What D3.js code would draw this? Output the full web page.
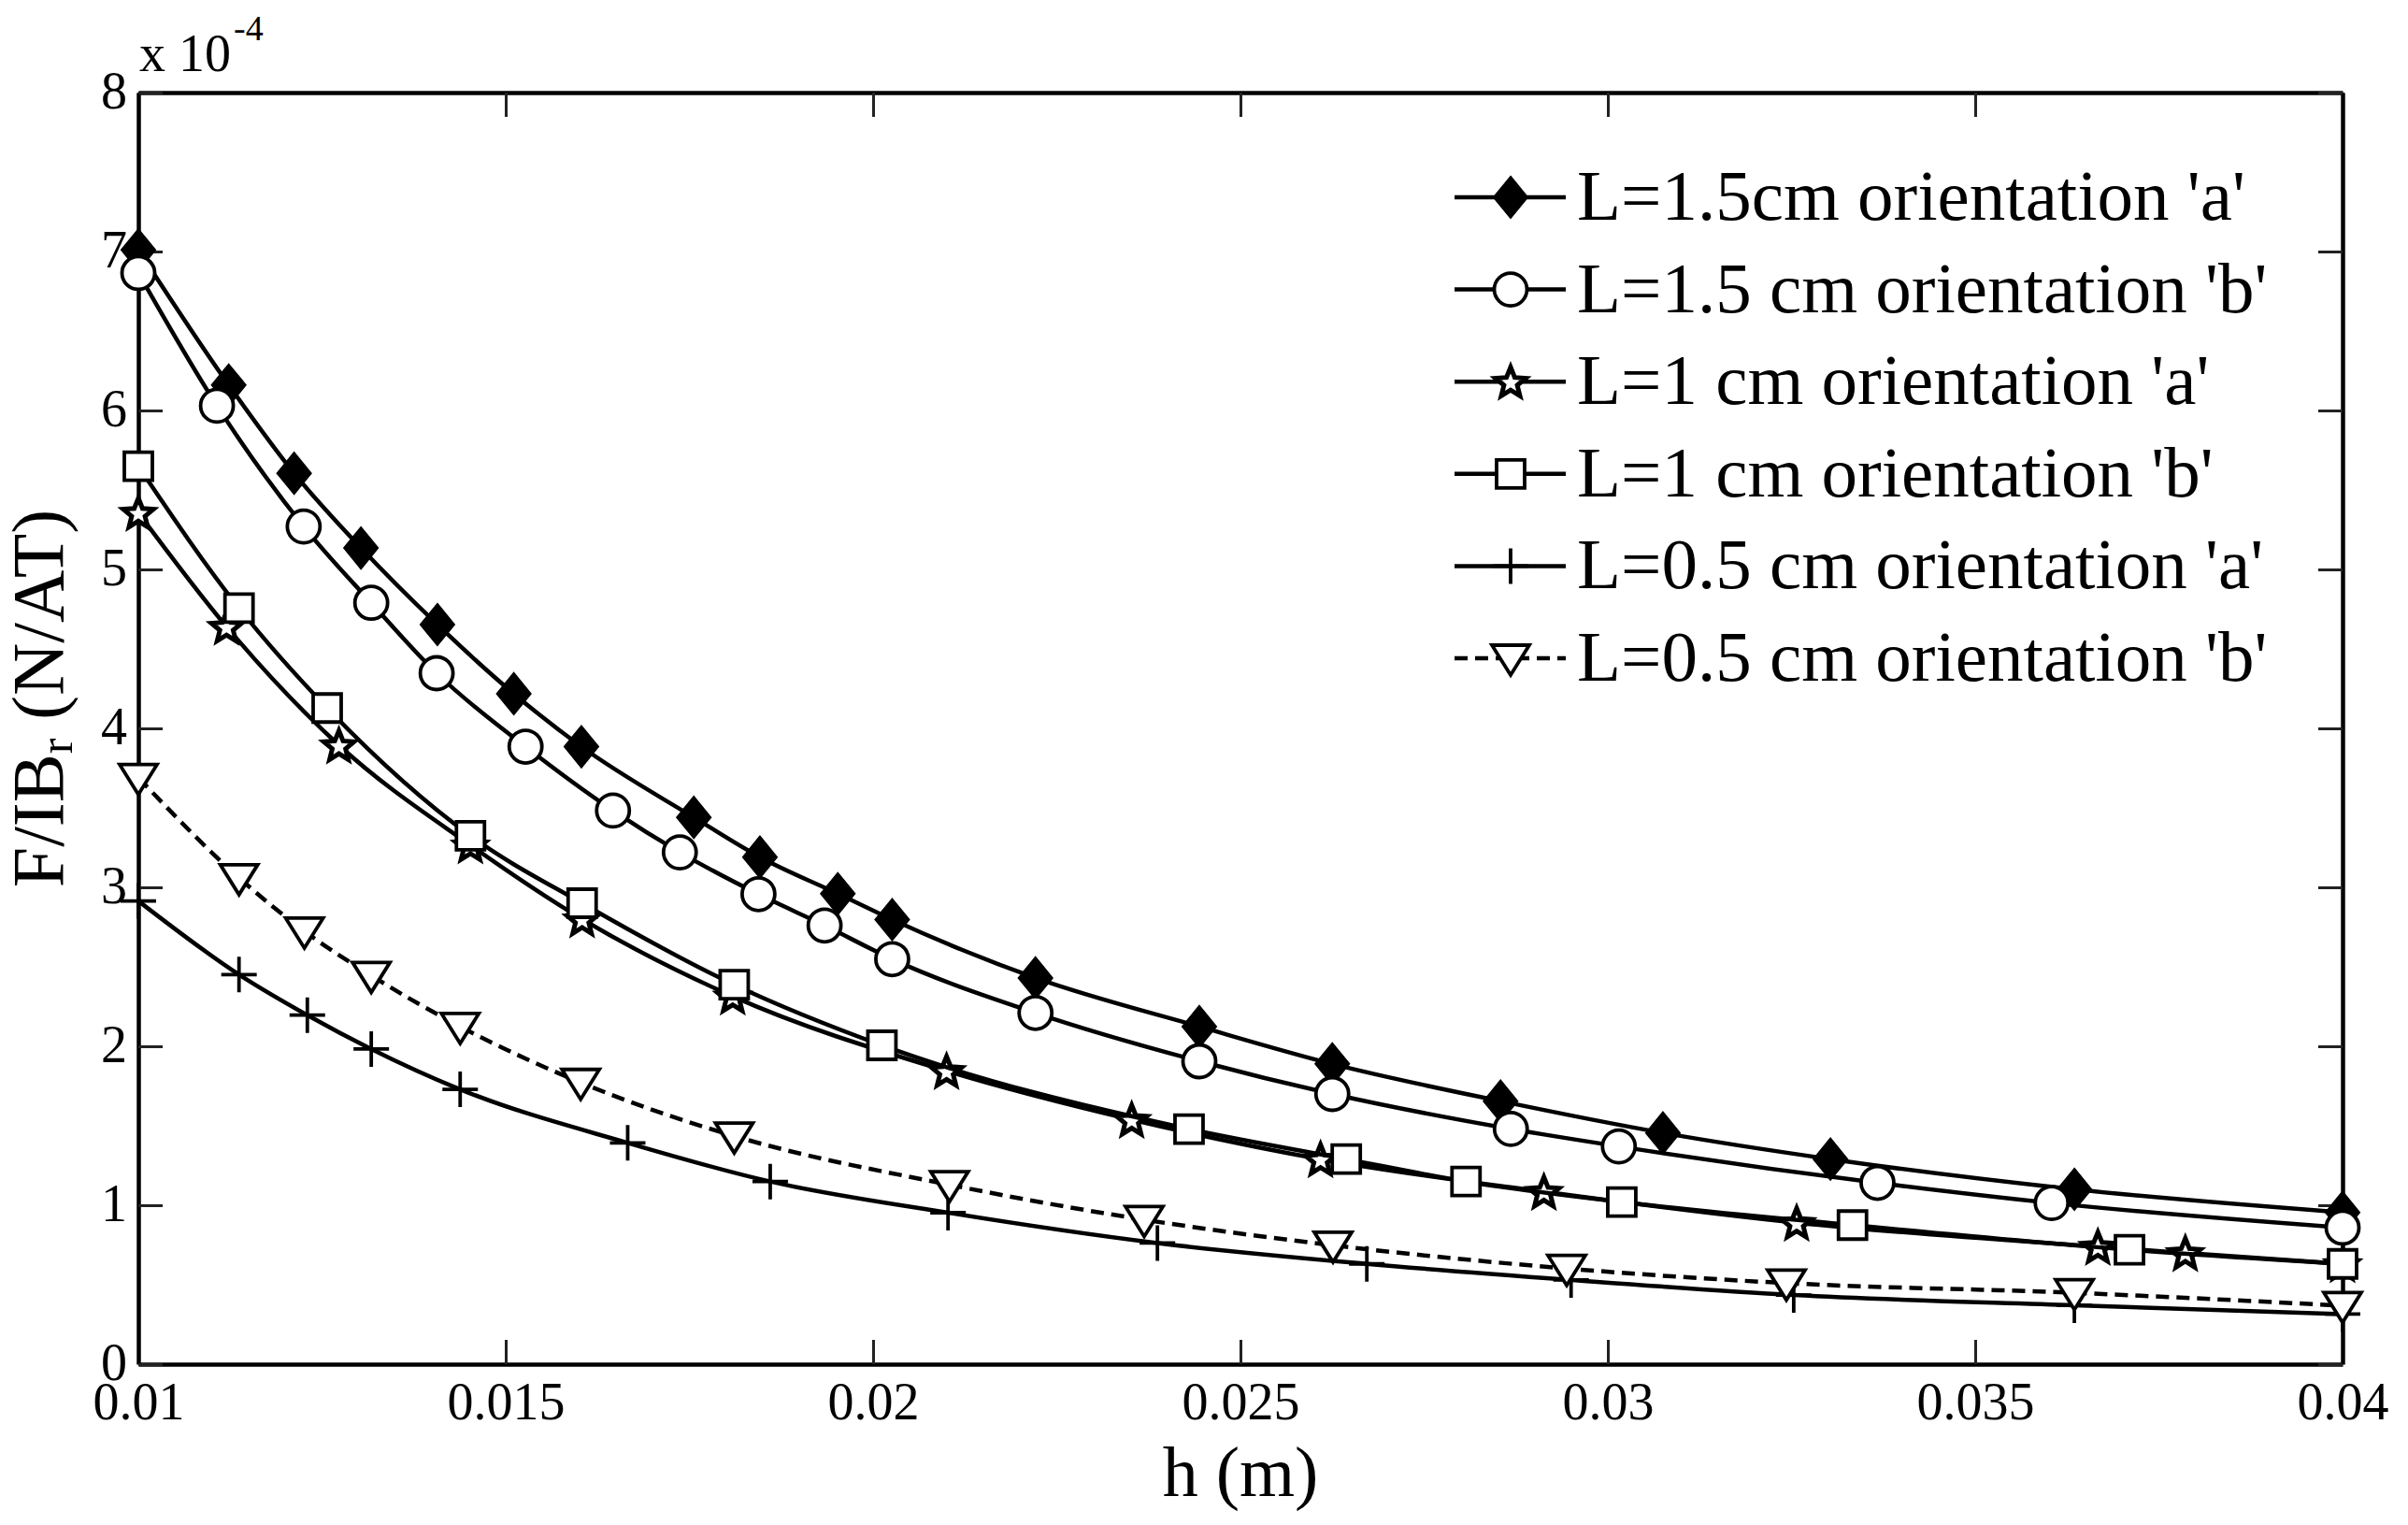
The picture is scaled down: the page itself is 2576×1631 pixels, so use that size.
<!DOCTYPE html>
<html>
<head>
<meta charset="utf-8">
<script src="https://cdn.jsdelivr.net/npm/d3@7/dist/d3.min.js"></script>
<style>
  body { margin: 0; background: #fff; }
  text { font-family: "Liberation Serif", "Times New Roman", serif; fill: #000; }
</style>
</head>
<body>
<script>
// ticks
var xTicks = [0.01, 0.015, 0.02, 0.025, 0.03, 0.035, 0.04];
var xTickLabels = ["0.01", "0.015", "0.02", "0.025", "0.03", "0.035", "0.04"];
var yTicks = [0, 1, 2, 3, 4, 5, 6, 7, 8];
var yTickLabels = ["0", "1", "2", "3", "4", "5", "6", "7", "8"];

// legend labels
var seriesNames = [
	"L=1.5cm orientation 'a'",
	"L=1.5 cm orientation 'b'",
	"L=1 cm orientation 'a'",
	"L=1 cm orientation 'b'",
	"L=0.5 cm orientation 'a'",
	"L=0.5 cm orientation 'b'"
];

var h15a = [0.0100, 0.01123, 0.01212, 0.01303, 0.01407, 0.01511, 0.01603, 0.01756, 0.01846, 0.01952, 0.02026, 0.02221, 0.02444, 0.02625, 0.02854, 0.03075, 0.03303, 0.03635, 0.0400];
var f15a = [7.01, 6.16, 5.605, 5.135, 4.653, 4.218, 3.885, 3.44, 3.19, 2.96, 2.797, 2.43, 2.124, 1.889, 1.655, 1.455, 1.29, 1.10, 0.955];
var h15b = [0.0100, 0.01107, 0.01225, 0.01317, 0.01406, 0.01527, 0.01646, 0.01737, 0.01844, 0.01934, 0.02026, 0.02221, 0.02444, 0.02625, 0.02868, 0.03015, 0.03367, 0.03604, 0.0400];
var f15b = [6.865, 6.03, 5.27, 4.79, 4.347, 3.885, 3.483, 3.22, 2.957, 2.76, 2.548, 2.21, 1.906, 1.70, 1.48, 1.37, 1.141, 1.014, 0.859];
var h10a = [0.0100, 0.0112, 0.01273, 0.01452, 0.01604, 0.01809, 0.0210, 0.02352, 0.02609, 0.02913, 0.03257, 0.03667, 0.03786, 0.0400];
var f10a = [5.357, 4.64, 3.894, 3.265, 2.80, 2.314, 1.845, 1.538, 1.29, 1.085, 0.89, 0.739, 0.70, 0.631];
var h10b = [0.0100, 0.01137, 0.01257, 0.01452, 0.01604, 0.01811, 0.02012, 0.0243, 0.02644, 0.02807, 0.03019, 0.03333, 0.0371, 0.0400];
var f10b = [5.649, 4.757, 4.128, 3.324, 2.90, 2.387, 2.006, 1.479, 1.29, 1.149, 1.02, 0.875, 0.72, 0.631];
var h05a = [0.0100, 0.01137, 0.0123, 0.01317, 0.01438, 0.01666, 0.0186, 0.02102, 0.02387, 0.02672, 0.0295, 0.03253, 0.03635, 0.0400];
var f05a = [2.914, 2.451, 2.196, 1.983, 1.729, 1.392, 1.149, 0.953, 0.762, 0.631, 0.53, 0.435, 0.37, 0.315];
var h05b = [0.0100, 0.01137, 0.01226, 0.01317, 0.01438, 0.01602, 0.01811, 0.02104, 0.02369, 0.02626, 0.02944, 0.03243, 0.03635, 0.0400];
var f05b = [3.69, 3.06, 2.724, 2.445, 2.124, 1.772, 1.435, 1.129, 0.909, 0.748, 0.602, 0.51, 0.449, 0.368];

var allH = [h15a, h15b, h10a, h10b, h05a, h05b];
var allF = [f15a, f15b, f10a, f10b, f05a, f05b];
var markers = ["diamond", "circle", "star", "square", "plus", "tri"];
var dashes = [null, null, null, null, null, "14,8"];

var W = 2576, H = 1631;
var plotL = 148, plotR = 2506, plotT = 99, plotB = 1459;

var svg = d3.select("body").append("svg")
	.attr("width", W)
	.attr("height", H);
svg.append("rect").attr("width", W).attr("height", H).attr("fill", "#fff");

var x = d3.scaleLinear().domain([0.01, 0.04]).range([plotL, plotR]);
var y = d3.scaleLinear().domain([0, 8]).range([plotB, plotT]);

// marker shapes, centred on 0,0
function markerPath(type) {
	if (type == "diamond") return "M0,-22L18,0L0,22L-18,0Z";
	if (type == "circle") return "M17.5,0A17.5,17.5 0 1,1 -17.5,0A17.5,17.5 0 1,1 17.5,0Z";
	if (type == "square") return "M-15,-15H15V15H-15Z";
	if (type == "plus") return "M-19,0H19M0,-19V19";
	if (type == "tri") return "M-20,-14L20,-14L0,18Z";
	if (type == "star") {
		var p = [];
		for (var k = 0; k < 10; k++) {
			var r = k % 2 ? 7.5 : 17;
			var a = -Math.PI / 2 + k * Math.PI / 5;
			p.push([Math.cos(a) * r, Math.sin(a) * r + 1.5]);
		}
		return "M" + p.map(function (q) { return q[0].toFixed(2) + "," + q[1].toFixed(2); }).join("L") + "Z";
	}
}
function drawMarker(g, type) {
	g.append("path")
		.attr("d", markerPath(type))
		.attr("fill", type == "diamond" ? "#000" : (type == "plus" ? "none" : "#fff"))
		.attr("stroke", "#000")
		.attr("stroke-width", type == "diamond" ? 2 : (type == "star" ? 5 : 3.8))
		.attr("stroke-linejoin", "miter");
}

// axes, MATLAB style box with inward ticks
function styleAxis(g) {
	g.select(".domain").attr("stroke", "#000").attr("stroke-width", 4.5);
	g.selectAll(".tick line").attr("stroke", "#222").attr("stroke-width", 3);
	g.selectAll(".tick text")
		.attr("font-size", 56)
		.attr("font-family", "Liberation Serif, Times New Roman, serif")
		.attr("fill", "#000");
}
var gx = svg.append("g").attr("transform", "translate(0," + plotB + ")")
	.call(d3.axisBottom(x).tickValues(xTicks).tickFormat(function (d, i) { return xTickLabels[i]; })
		.tickSize(-26).tickSizeOuter(0));
styleAxis(gx);
gx.selectAll(".tick text").attr("y", 59).attr("dy", null);

var gxt = svg.append("g").attr("transform", "translate(0," + plotT + ")")
	.call(d3.axisTop(x).tickValues(xTicks).tickFormat("").tickSize(-26).tickSizeOuter(0));
styleAxis(gxt);

var gy = svg.append("g").attr("transform", "translate(" + plotL + ",0)")
	.call(d3.axisLeft(y).tickValues(yTicks).tickFormat(function (d, i) { return yTickLabels[i]; })
		.tickSize(-26).tickSizeOuter(0));
styleAxis(gy);
gy.selectAll(".tick text").attr("x", -12).attr("dy", null).attr("y", 16).attr("text-anchor", "end");

var gyr = svg.append("g").attr("transform", "translate(" + plotR + ",0)")
	.call(d3.axisRight(y).tickValues(yTicks).tickFormat("").tickSize(-26).tickSizeOuter(0));
styleAxis(gyr);

// exponent note
var expo = svg.append("text").attr("x", 149).attr("y", 76).attr("font-size", 56);
expo.append("tspan").text("x 10");
expo.append("tspan").attr("font-size", 38).attr("dx", 3).attr("dy", -33).text("-4");

// axis labels
svg.append("text")
	.attr("x", (plotL + plotR) / 2)
	.attr("y", 1600)
	.attr("text-anchor", "middle")
	.attr("font-size", 76)
	.text("h (m)");

var yl = svg.append("text")
	.attr("transform", "translate(67,747)rotate(-90)")
	.attr("text-anchor", "middle")
	.attr("font-size", 78);
yl.append("tspan").text("F/IB");
yl.append("tspan").attr("font-size", 50).attr("dy", 10).text("r");
yl.append("tspan").attr("dy", -10).text(" (N/AT)");

// curves and markers
var line = d3.line().curve(d3.curveMonotoneX);
for (var s = 0; s < allH.length; s++) {
	var pts = allH[s].map(function (h, i) { return [x(h), y(allF[s][i])]; });
	svg.append("path")
		.attr("d", line(pts))
		.attr("fill", "none")
		.attr("stroke", "#000")
		.attr("stroke-width", 4.5)
		.attr("stroke-dasharray", dashes[s]);
	var mg = svg.append("g");
	pts.forEach(function (p) {
		var g = mg.append("g").attr("transform", "translate(" + p[0] + "," + p[1] + ")");
		drawMarker(g, markers[s]);
	});
}

// legend (no box)
var legX1 = 1556, legX2 = 1675, legM = 1616, legT = 1687;
for (var s = 0; s < seriesNames.length; s++) {
	var ly = 211 + s * 98.6;
	svg.append("line")
		.attr("x1", legX1).attr("x2", legX2)
		.attr("y1", ly).attr("y2", ly)
		.attr("stroke", "#000")
		.attr("stroke-width", 4.5)
		.attr("stroke-dasharray", dashes[s]);
	var lg = svg.append("g").attr("transform", "translate(" + legM + "," + ly + ")");
	drawMarker(lg, markers[s]);
	svg.append("text")
		.attr("x", legT)
		.attr("y", ly + 24)
		.attr("font-size", 77)
		.text(seriesNames[s]);
}
</script>
</body>
</html>
